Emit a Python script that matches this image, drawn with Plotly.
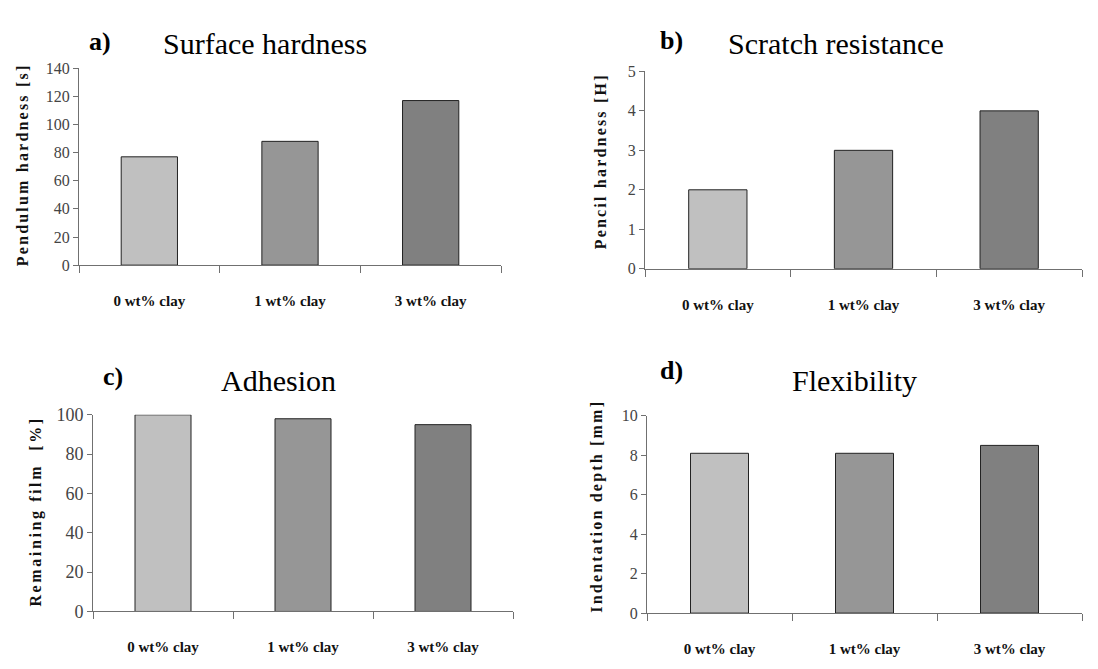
import plotly.graph_objects as go

categories = ["0 wt% clay", "1 wt% clay", "3 wt% clay"]
bar_colors = ["#c0c0c0", "#969696", "#808080"]

surface_hardness = [77, 88, 117]
scratch_resistance = [2, 3, 4]
adhesion = [100, 98, 95]
flexibility = [8.1, 8.1, 8.5]

panel_titles = ["Surface hardness", "Scratch resistance", "Adhesion", "Flexibility"]
panel_letters = ["a)", "b)", "c)", "d)"]
y_titles = ["Pendulum hardness [s]", "Pencil hardness [H]", "Remaining film  [%]", "Indentation depth [mm]"]
y_ranges = [[0, 140], [0, 5], [0, 100], [0, 10]]
y_dticks = [20, 1, 20, 2]

W, H = 1098, 669
FONT = "Liberation Serif"

# panel geometry in pixels: (x0, x1, ytop, ybottom)
boxes = [(79, 501, 60, 263), (645, 1082, 63.3, 266.7), (93, 513, 417.3, 620), (647, 1082, 418.3, 621.7)]
title_pos = [(265, 35), (836, 35), (278, 382), (854, 382)]
letter_pos = [(100, 32), (671, 31), (113, 378), (671, 372)]
ytitle_pos = [(22, 160), (600, 156), (36, 517), (597, 512)]
ytick_sizes = [16, 16, 18, 16]
ytitle_spacing = [2.2, 2.2, 2.6, 2.2]

series = [surface_hardness, scratch_resistance, adhesion, flexibility]

fig = go.Figure()
annotations = []
for i, vals in enumerate(series):
    n = "" if i == 0 else str(i + 1)
    fig.add_trace(go.Bar(
        x=categories, y=vals,
        marker=dict(color=bar_colors, line=dict(color="#222222", width=1)),
        xaxis="x" + n, yaxis="y" + n, showlegend=False,
    ))
    x0, x1, yt, yb = boxes[i]
    fig.layout["xaxis" + n] = dict(
        domain=[x0 / W, x1 / W], anchor="y" + n, type="category",
        range=[-0.5, 2.5], showline=True, linecolor="#707070", linewidth=1,
        ticks="outside", tickson="boundaries", ticklen=7, tickcolor="#707070",
        showgrid=False, zeroline=False, ticklabelstandoff=22,
        tickfont=dict(family=FONT, size=15, color="#111111", weight="bold"),
    )
    fig.layout["yaxis" + n] = dict(
        domain=[1 - yb / H, 1 - yt / H], anchor="x" + n,
        range=y_ranges[i], dtick=y_dticks[i], showline=True, linecolor="#707070",
        linewidth=1, ticks="outside", ticklen=5, tickcolor="#707070",
        showgrid=False, zeroline=False,
        tickfont=dict(family=FONT, size=ytick_sizes[i], color="#444444"),
    )
    tx, ty = title_pos[i]
    annotations.append(dict(text=panel_titles[i], x=tx / W, y=1 - ty / H, xref="paper", yref="paper",
                            showarrow=False, xanchor="center", yanchor="middle",
                            font=dict(family=FONT, size=30, color="#000000")))
    lx, ly = letter_pos[i]
    annotations.append(dict(text="<b>" + panel_letters[i] + "</b>", x=lx / W, y=1 - ly / H, xref="paper", yref="paper",
                            showarrow=False, xanchor="center", yanchor="middle",
                            font=dict(family=FONT, size=26, color="#000000")))
    yx, yy = ytitle_pos[i]
    annotations.append(dict(text='<span style="letter-spacing:%.1fpx"><b>' % ytitle_spacing[i] + y_titles[i] + "</b></span>",
                            x=yx / W, y=1 - yy / H, xref="paper", yref="paper", textangle=-90,
                            showarrow=False, xanchor="center", yanchor="middle",
                            font=dict(family=FONT, size=16, color="#111111")))

fig.update_layout(
    width=W, height=H, margin=dict(l=0, r=0, t=0, b=0),
    paper_bgcolor="white", plot_bgcolor="white",
    bargap=0.6, annotations=annotations,
    font=dict(family=FONT),
)

fig.write_html("out.html", config={"displayModeBar": False},
               post_script="document.body.style.margin='0';document.body.style.padding='0';")
